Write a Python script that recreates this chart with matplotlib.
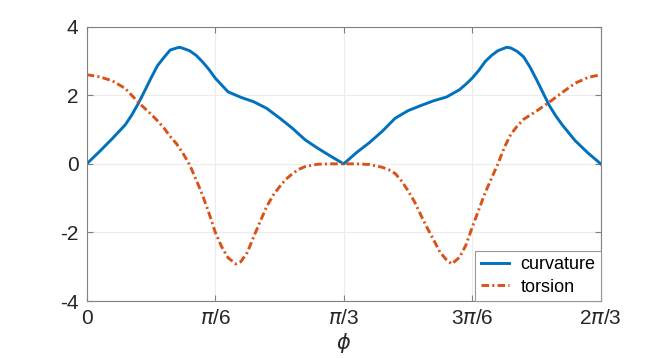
import numpy as np
import matplotlib
matplotlib.use("Agg")
import matplotlib.pyplot as plt

plt.rcParams['font.family'] = ['Liberation Sans', 'DejaVu Sans']
plt.rcParams['axes.unicode_minus'] = False
plt.rcParams['mathtext.fontset'] = 'dejavusans'

# phi in units of pi/60 (0 .. 40 -> 0 .. 2*pi/3)
k_curv = [0, 1, 2, 3, 3.5, 4, 4.5, 5, 5.5, 6, 6.5, 7, 7.26, 8, 8.5, 9, 9.5, 10, 10.5, 11, 11.5,
          12, 13, 14, 15, 16, 17, 18, 19, 20,
          21, 22, 23, 24, 25, 26, 27, 28, 29, 29.5, 30, 30.5, 31, 31.5, 32, 32.68,
          33, 33.5, 34, 34.5, 35, 35.5, 36, 36.5, 37, 38, 39, 40]
curvature = [0.00, 0.36, 0.74, 1.14, 1.42, 1.75, 2.12, 2.50, 2.86, 3.10, 3.32, 3.38, 3.40,
             3.30, 3.17, 2.98, 2.76, 2.50, 2.30, 2.10, 2.02,
             1.94, 1.81, 1.62, 1.34, 1.04, 0.70, 0.45, 0.22, 0.00,
             0.33, 0.62, 0.95, 1.33, 1.55, 1.70, 1.84, 1.95, 2.16, 2.32, 2.50, 2.72, 2.98,
             3.16, 3.30, 3.40,
             3.38, 3.28, 3.12, 2.82, 2.46, 2.08, 1.70, 1.40, 1.14, 0.68, 0.32, 0.00]

k_tors = [0, 1, 2, 3, 4, 5, 5.5, 6, 6.5, 7, 7.5, 8, 8.5, 9, 9.5, 10, 10.5, 11, 11.62,
          12, 12.5, 13, 13.5, 14, 14.5, 15, 15.5, 16, 16.5, 17, 18, 19, 20,
          21, 22, 23, 23.5, 24, 24.5, 25, 25.5, 26, 26.5, 27, 27.5, 28, 28.40,
          29, 29.5, 30, 30.5, 31, 31.5, 32, 32.5, 33, 33.5, 34, 35, 36, 37, 38, 39, 40]
torsion = [2.60, 2.54, 2.42, 2.20, 1.80, 1.45, 1.26, 1.05, 0.80, 0.58, 0.30, -0.02, -0.45,
           -0.90, -1.42, -1.99, -2.42, -2.74, -2.92,
           -2.85, -2.58, -2.12, -1.68, -1.25, -0.92, -0.67, -0.45, -0.29, -0.16, -0.08,
           -0.01, 0.00, 0.00,
           0.00, -0.02, -0.10, -0.17, -0.28, -0.50, -0.78, -1.10, -1.49, -1.87, -2.22,
           -2.58, -2.80, -2.92,
           -2.73, -2.38, -1.85, -1.35, -0.85, -0.42, 0.00, 0.48, 0.86, 1.10, 1.30,
           1.54, 1.80, 2.08, 2.35, 2.52, 2.60]

xticks_k = [0, 10, 20, 30, 40]
xtick_labels = ['0', r'$\pi$/6', r'$\pi$/3', r'3$\pi$/6', r'2$\pi$/3']
yticks = [-4, -2, 0, 2, 4]

phi_c = np.array(k_curv) * np.pi / 60
phi_t = np.array(k_tors) * np.pi / 60

fig = plt.figure(figsize=(6.64, 3.58), dpi=100)
ax = fig.add_axes([0.1306, 0.1592, 0.7741, 0.7662])

ax.plot(phi_c, curvature, color='#0072BD', lw=2.1, label='curvature')
ax.plot(phi_t, torsion, color='#D95319', lw=2.1, dashes=(2.6, 1.1, 0.7, 1.1), label='torsion')

ax.set_xlim(0, 2 * np.pi / 3)
ax.set_ylim(-4, 4)
ax.set_xticks(np.array(xticks_k) * np.pi / 60)
ax.set_xticklabels(xtick_labels)
ax.set_yticks(yticks)
ax.grid(True, color='#ececec', lw=0.8)
ax.set_axisbelow(True)

for s in ax.spines.values():
    s.set_color('#808080')
    s.set_linewidth(0.8)
ax.tick_params(direction='in', length=4, width=0.8, color='#808080',
               labelsize=15, labelcolor='#262626', top=True, right=True, pad=6)
ax.set_xlabel(r'$\phi$', fontsize=15, color='#262626', labelpad=2)

leg = ax.legend(loc='lower right', borderaxespad=0, fancybox=False, fontsize=13,
                handlelength=1.6, handletextpad=0.6, borderpad=0.3, labelspacing=0.3,
                framealpha=1)
leg.get_frame().set_edgecolor('#999999')
leg.get_frame().set_linewidth(0.8)

fig.savefig('out.png', dpi=100)
